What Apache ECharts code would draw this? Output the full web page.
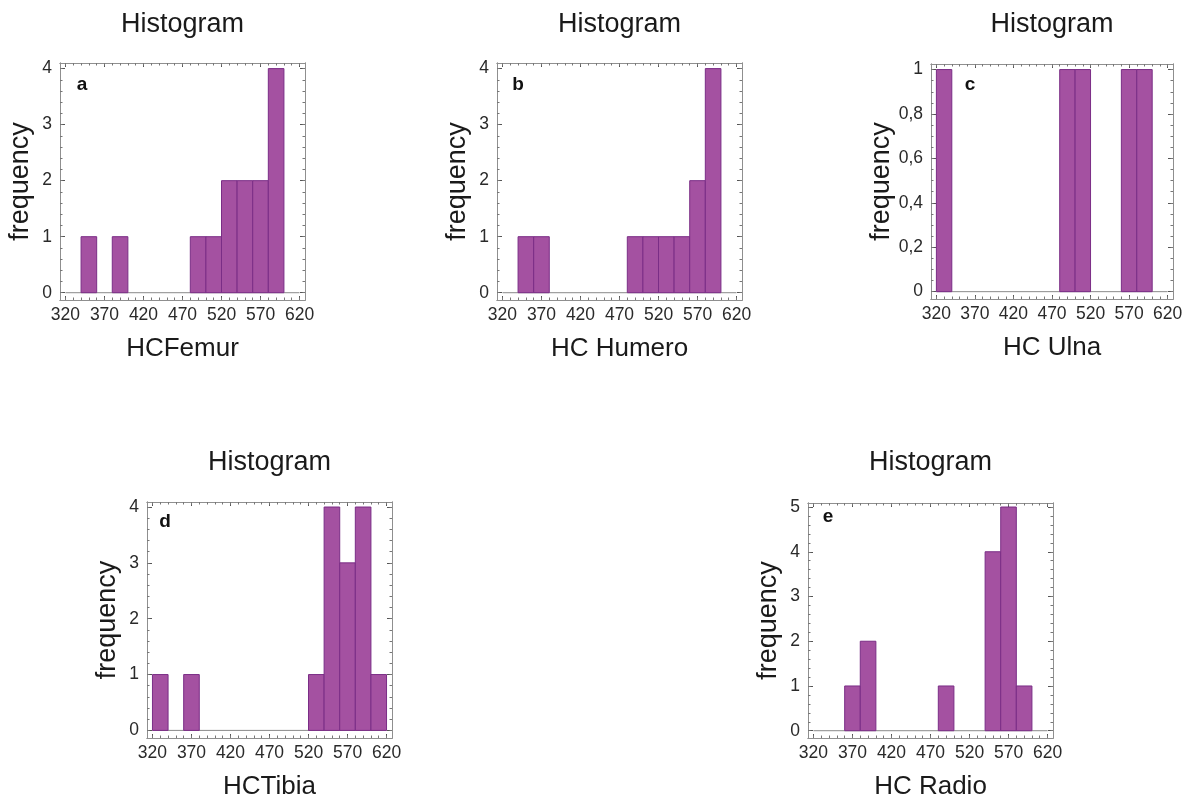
<!DOCTYPE html>
<html>
<head>
<meta charset="utf-8">
<script src="https://cdn.jsdelivr.net/npm/echarts@6/dist/echarts.min.js"></script>
<style>
html,body{margin:0;padding:0;background:#fff;}
#chart{width:1189px;height:801px;}
</style>
</head>
<body>
<div id="chart"></div>
<script>
// ---- data ----
const binWidth = 20;
const xTickLabels = [320, 370, 420, 470, 520, 570, 620];
const panelLetters = ['a', 'b', 'c', 'd', 'e'];
const xAxisTitles = ['HCFemur', 'HC Humero', 'HC Ulna', 'HCTibia', 'HC Radio'];
const chartTitle = 'Histogram';
const yAxisTitle = 'frequency';

const binsA = [340, 380, 480, 500, 520, 540, 560, 580];
const countsA = [1, 1, 1, 1, 2, 2, 2, 4];
const binsB = [340, 360, 480, 500, 520, 540, 560, 580];
const countsB = [1, 1, 1, 1, 1, 1, 2, 4];
const binsC = [320, 480, 500, 560, 580];
const countsC = [1, 1, 1, 1, 1];
const binsD = [320, 360, 520, 540, 560, 580, 600];
const countsD = [1, 1, 1, 4, 3, 4, 1];
const binsE = [360, 380, 480, 540, 560, 580];
const countsE = [1, 2, 1, 4, 5, 1];

const yTicksA = [0, 1, 2, 3, 4];
const yTicksC = [0, 0.2, 0.4, 0.6, 0.8, 1];
const yTicksE = [0, 1, 2, 3, 4, 5];

// ---- layout / style ----
const FONT = '"Liberation Sans", Arial, sans-serif';
const FRAME = '#8f8f8f';
const panels = [
  {bins: binsA, counts: countsA, yTicks: yTicksA, yMinor: 0.2, ymin: -0.13, ymax: 4.1, grid: {left: 60, top: 63, width: 245, height: 237}, letter: [82, 85], titleY: 25},
  {bins: binsB, counts: countsB, yTicks: yTicksA, yMinor: 0.2, ymin: -0.13, ymax: 4.1, grid: {left: 497, top: 63, width: 245, height: 237}, letter: [518, 85], titleY: 25},
  {bins: binsC, counts: countsC, yTicks: yTicksC, yMinor: 0.05, ymin: -0.033, ymax: 1.025, grid: {left: 931, top: 64, width: 242, height: 235}, letter: [970, 85], titleY: 25},
  {bins: binsD, counts: countsD, yTicks: yTicksA, yMinor: 0.2, ymin: -0.136, ymax: 4.09, grid: {left: 147, top: 502, width: 245, height: 236}, letter: [165, 522], titleY: 463},
  {bins: binsE, counts: countsE, yTicks: yTicksE, yMinor: 0.2, ymin: -0.163, ymax: 5.09, grid: {left: 808, top: 503, width: 245, height: 235}, letter: [828, 517], titleY: 463}
];
const XMIN = 313, XMAX = 627;

function range(a, b, step) {
  const out = [];
  const n = Math.round((b - a) / step);
  for (let i = 0; i <= n; i++) out.push(+(a + i * step).toFixed(4));
  return out;
}
const xMinorTicks = range(320, 620, 10);

const grids = [], xAxes = [], yAxes = [], series = [], graphics = [];

panels.forEach((p, i) => {
  grids.push(Object.assign({containLabel: false}, p.grid));
  const baseX = {
    type: 'value', gridIndex: i, min: XMIN, max: XMAX,
    splitLine: {show: false},
    axisLine: {show: true, onZero: false, lineStyle: {color: FRAME, width: 1}}
  };
  xAxes.push(Object.assign({}, baseX, {
    position: 'bottom',
    name: xAxisTitles[i], nameLocation: 'middle', nameGap: 36,
    nameTextStyle: {fontFamily: FONT, fontSize: 26, color: '#1a1a1a'},
    axisTick: {show: true, inside: true, length: 4, customValues: xTickLabels, lineStyle: {color: '#555'}},
    axisLabel: {show: true, customValues: xTickLabels, margin: 6, fontFamily: FONT, fontSize: 17.5, color: '#2a2a2a'}
  }));
  xAxes.push(Object.assign({}, baseX, {
    position: 'bottom',
    axisTick: {show: true, inside: true, length: 2.5, customValues: xMinorTicks, lineStyle: {color: '#777'}},
    axisLabel: {show: false}
  }));
  xAxes.push(Object.assign({}, baseX, {
    position: 'top',
    axisTick: {show: true, inside: true, length: 4, customValues: xTickLabels, lineStyle: {color: '#555'}},
    axisLabel: {show: false}
  }));
  xAxes.push(Object.assign({}, baseX, {
    position: 'top',
    axisTick: {show: true, inside: true, length: 2.5, customValues: xMinorTicks, lineStyle: {color: '#777'}},
    axisLabel: {show: false}
  }));

  const yMinorTicks = range(0, p.yTicks[p.yTicks.length - 1], p.yMinor);
  const baseY = {
    type: 'value', gridIndex: i, min: p.ymin, max: p.ymax,
    splitLine: {show: false},
    axisLine: {show: true, onZero: false, lineStyle: {color: FRAME, width: 1}}
  };
  yAxes.push(Object.assign({}, baseY, {
    position: 'left',
    name: yAxisTitle, nameLocation: 'middle', nameGap: 26, nameRotate: 90,
    nameTextStyle: {fontFamily: FONT, fontSize: 27, color: '#1a1a1a'},
    axisTick: {show: true, inside: true, length: 5, customValues: p.yTicks, lineStyle: {color: '#555'}},
    axisLabel: {show: true, customValues: p.yTicks, margin: 8, fontFamily: FONT, fontSize: 17.5, color: '#2a2a2a',
      formatter: v => String(v).replace('.', ',')}
  }));
  yAxes.push(Object.assign({}, baseY, {
    position: 'left',
    axisTick: {show: true, inside: true, length: 2.5, customValues: yMinorTicks, lineStyle: {color: '#777'}},
    axisLabel: {show: false}
  }));
  yAxes.push(Object.assign({}, baseY, {
    position: 'right',
    axisTick: {show: true, inside: true, length: 5, customValues: p.yTicks, lineStyle: {color: '#555'}},
    axisLabel: {show: false}
  }));
  yAxes.push(Object.assign({}, baseY, {
    position: 'right',
    axisTick: {show: true, inside: true, length: 2.5, customValues: yMinorTicks, lineStyle: {color: '#777'}},
    axisLabel: {show: false}
  }));

  series.push({
    type: 'line', xAxisIndex: i * 4, yAxisIndex: i * 4,
    data: [[xTickLabels[0], 0], [xTickLabels[xTickLabels.length - 1], 0]],
    symbol: 'none', silent: true, z: 1,
    lineStyle: {color: '#8a8a8a', width: 1}
  });
  series.push({
    type: 'custom', xAxisIndex: i * 4, yAxisIndex: i * 4, z: 2,
    data: p.bins.map((b, k) => [b, b + binWidth, p.counts[k]]),
    renderItem: (params, api) => {
      const p0 = api.coord([api.value(0), 0]);
      const p1 = api.coord([api.value(1), api.value(2)]);
      return {
        type: 'rect',
        shape: {x: p0[0], y: p1[1], width: p1[0] - p0[0], height: p0[1] - p1[1]},
        style: {fill: '#a451a1', stroke: '#7a2d86', lineWidth: 1}
      };
    }
  });

  graphics.push({
    type: 'text', x: p.grid.left + p.grid.width / 2, y: p.titleY,
    style: {text: chartTitle, font: '27px ' + FONT, fill: '#1a1a1a', align: 'center', verticalAlign: 'middle'}
  });
  graphics.push({
    type: 'text', x: p.letter[0], y: p.letter[1],
    style: {text: panelLetters[i], font: 'bold 19px ' + FONT, fill: '#111', align: 'center', verticalAlign: 'middle'}
  });
});

const chart = echarts.init(document.getElementById('chart'), null, {renderer: 'canvas'});
chart.setOption({
  backgroundColor: '#fff',
  animation: false,
  grid: grids,
  xAxis: xAxes,
  yAxis: yAxes,
  series: series,
  graphic: graphics
});
</script>
</body>
</html>
